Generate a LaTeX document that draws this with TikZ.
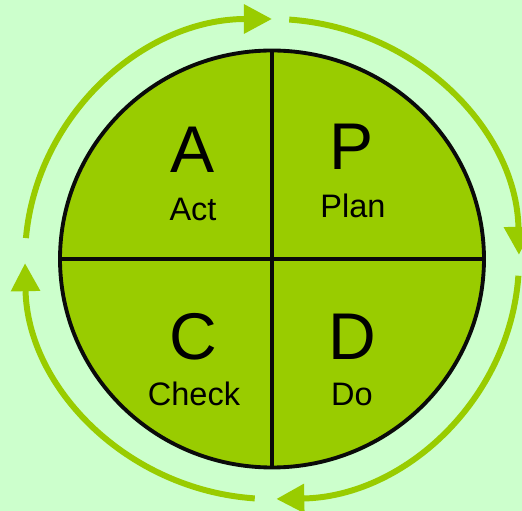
\documentclass[tikz,border=0pt]{standalone}
\usepackage{fontspec}
\setmainfont{Liberation Sans}
\usepackage{tikz}
\usetikzlibrary{shapes.geometric, arrows.meta, positioning}
\definecolor{pdcagreen}{RGB}{153,204,0}
\definecolor{pdcabg}{RGB}{204,255,204}
\definecolor{pdcaline}{RGB}{10,10,10}
\tikzset{
  wheelbody/.style={ellipse, draw=pdcaline, fill=pdcagreen,
    minimum width=8.48cm, minimum height=8.34cm, inner sep=0pt,
    outer sep=0pt, line width=2.2pt},
  divider/.style={draw=pdcaline, line width=2.2pt},
  bigletter/.style={font=\fontsize{37.6}{40}\selectfont, anchor=base, inner sep=0pt},
  steplabel/.style={font=\fontsize{18.5}{20}\selectfont, anchor=base, inner sep=0pt},
  cyclearrow/.style={-{Triangle[length=0.56cm, width=0.56cm]},
    draw=pdcagreen, line width=3.4pt}
}
\begin{document}
\begin{tikzpicture}
  % Background
  \fill[pdcabg] (-5.44,-5.04) rectangle (5.00,5.18);
  \useasboundingbox (-5.44,-5.04) rectangle (5.00,5.18);

  % Wheel
  \node[wheelbody] (wheel) at (0,0) {};
  \draw[divider] (wheel.north) -- (wheel.south);
  \draw[divider] (wheel.west) -- (wheel.east);

  % Letters and labels
  \node[bigletter] (act) at (-1.58, 1.72) {A};
  \node[steplabel] (actlabel) at (-1.58, 0.76) {Act};
  \node[bigletter] (plan) at (1.60, 1.78) {P};
  \node[steplabel] (planlabel) at (1.62, 0.82) {Plan};
  \node[bigletter] (check) at (-1.58, -2.02) {C};
  \node[steplabel] (checklabel) at (-1.56, -2.94) {Check};
  \node[bigletter] (do) at (1.60, -2.02) {D};
  \node[steplabel] (dolabel) at (1.60, -2.94) {Do};

  % Cycle arrows
  \foreach \s/\e in {175/90, 86/1, -4/-89, -94/-179}
    \draw[cyclearrow] (\s:4.94cm and 4.8cm)
      arc[start angle=\s, end angle=\e, x radius=4.94, y radius=4.8];
\end{tikzpicture}
\end{document}
